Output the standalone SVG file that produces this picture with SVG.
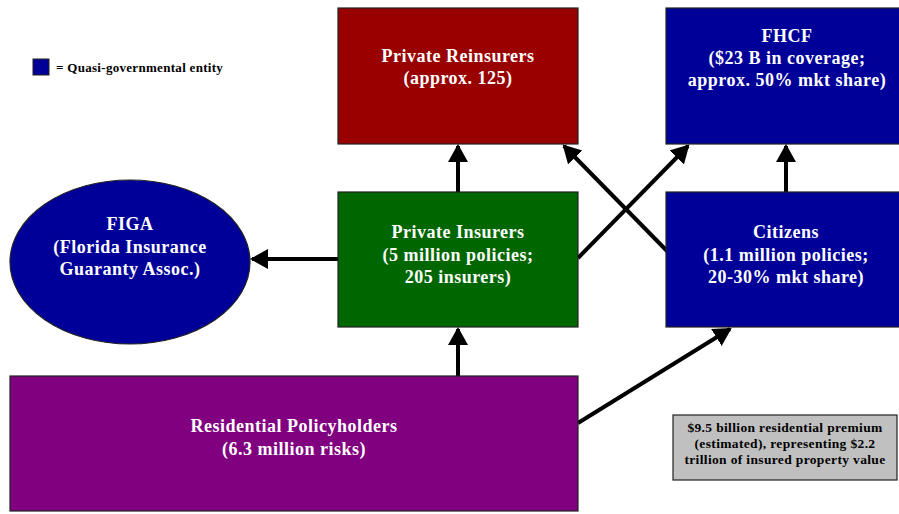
<svg xmlns="http://www.w3.org/2000/svg" width="899" height="514" viewBox="0 0 899 514">
<style>
.box{stroke:#222;stroke-width:1.2}
.t{font-family:"Liberation Serif","Times New Roman",serif;font-weight:bold;font-size:18px;letter-spacing:0.5px;fill:#fff;text-anchor:middle}
.s{font-family:"Liberation Serif","Times New Roman",serif;font-weight:bold;font-size:13.5px;letter-spacing:0.35px;fill:#000;text-anchor:middle}
.c{stroke:#000;stroke-width:4;fill:none;marker-end:url(#ah)}
</style>
<defs>
<marker id="ah" markerUnits="userSpaceOnUse" markerWidth="22" markerHeight="22" refX="16" refY="10" orient="auto">
<path d="M0,0 L18,10 L0,20 Z" fill="#000"/>
</marker>
</defs>
<rect width="899" height="514" fill="#fff"/>
<g id="legend">
<rect x="33" y="59" width="16" height="16" fill="#000099" stroke="#222" stroke-width="1"/>
<text x="56" y="72" style="font-family:'Liberation Serif','Times New Roman',serif;font-weight:bold;font-size:13px;letter-spacing:0.3px;fill:#000">= Quasi-governmental entity</text>
</g>
<g id="connectors">
<line class="c" x1="458" y1="192" x2="458" y2="146"/>
<line class="c" x1="338" y1="259" x2="252" y2="259"/>
<line class="c" x1="458" y1="376" x2="458" y2="329"/>
<line class="c" x1="786" y1="192" x2="786" y2="146"/>
<line class="c" x1="578" y1="258" x2="688" y2="146"/>
<line class="c" x1="669" y1="253" x2="564" y2="146"/>
<line class="c" x1="578" y1="423" x2="730" y2="329"/>
</g>
<g id="reinsurers">
<rect class="box" x="338" y="8" width="240" height="136" fill="#990000"/>
<text class="t" x="458" y="62">Private Reinsurers</text>
<text class="t" x="458" y="84">(approx. 125)</text>
</g>
<g id="fhcf">
<rect class="box" x="666" y="8" width="242" height="136" fill="#000099"/>
<text class="t" x="787" y="42">FHCF</text>
<text class="t" x="787" y="64">($23 B in coverage;</text>
<text class="t" x="787" y="86">approx. 50% mkt share)</text>
</g>
<g id="insurers">
<rect class="box" x="338" y="192" width="240" height="135" fill="#006600"/>
<text class="t" x="458" y="238">Private Insurers</text>
<text class="t" x="458" y="261">(5 million policies;</text>
<text class="t" x="458" y="283">205 insurers)</text>
</g>
<g id="citizens">
<rect class="box" x="666" y="192" width="242" height="135" fill="#000099"/>
<text class="t" x="786" y="238">Citizens</text>
<text class="t" x="786" y="261">(1.1 million policies;</text>
<text class="t" x="786" y="283">20-30% mkt share)</text>
</g>
<g id="figa">
<ellipse class="box" cx="130" cy="262" rx="120" ry="82" fill="#000099"/>
<text class="t" x="130" y="230">FIGA</text>
<text class="t" x="130" y="253">(Florida Insurance</text>
<text class="t" x="130" y="275">Guaranty Assoc.)</text>
</g>
<g id="policyholders">
<rect class="box" x="10" y="376" width="568" height="135" fill="#800080"/>
<text class="t" x="294" y="432">Residential Policyholders</text>
<text class="t" x="294" y="455">(6.3 million risks)</text>
</g>
<g id="note">
<rect x="673" y="415" width="224" height="65" fill="#c0c0c0" stroke="#222" stroke-width="1.2"/>
<text class="s" x="785" y="432">$9.5 billion residential premium</text>
<text class="s" x="785" y="448">(estimated), representing $2.2</text>
<text class="s" x="785" y="464">trillion of insured property value</text>
</g>
</svg>
